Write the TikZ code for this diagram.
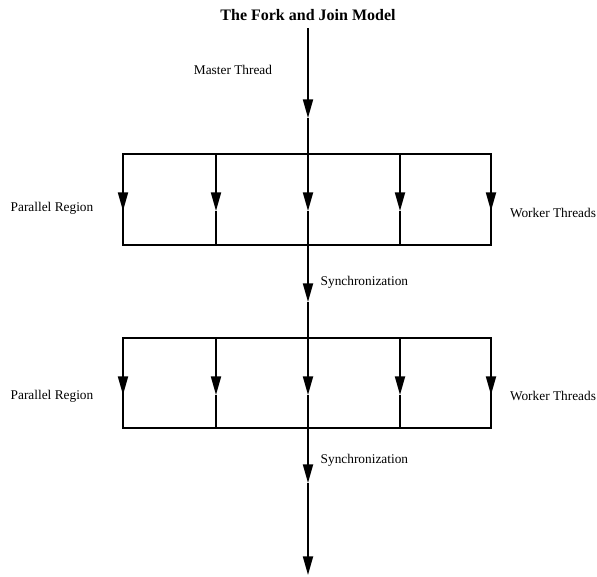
\documentclass[tikz,border=0pt]{standalone}
\usepackage{fontspec}
\setmainfont{Liberation Serif}
\usetikzlibrary{arrows.meta}

\begin{document}
\begin{tikzpicture}[x=.75pt,y=-.75pt,
	flow/.style={line width=1.5pt},
	fork/.style={flow,-{Triangle[length=14pt,width=7.5pt]}}]
	\useasboundingbox (0,0) rectangle (597,576);
	\node[font=\large\bfseries] (title) at (308,15) {The Fork and Join Model};
	
	% master thread
	\node (master) at (233,70) {Master Thread};
	\coordinate (start) at (308,28);
	\coordinate (fork1) at (308,118);
	\draw[fork] (start) -- (fork1);
	
	% the two parallel regions
	\foreach \r/\yt/\yb in {1/154/245,2/338/428}{
		\coordinate (r\r nw) at (123,\yt);
		\coordinate (r\r se) at (491,\yb);
		\draw[flow] (r\r nw) rectangle (r\r se);
		\foreach \c/\x in {1/123,2/216,3/308,4/400,5/491}{
			\coordinate (r\r t\c) at (\x,\yt);
			\coordinate (r\r a\c) at (\x,\yt+57);
			\coordinate (r\r b\c) at (\x,\yb);
			\draw[fork] (r\r t\c) -- (r\r a\c);
			\draw[flow] (r\r a\c) -- (r\r b\c);
		}
	}
	\node (par1) at (52,208) {Parallel Region};
	\node (wrk1) at (553,213) {Worker Threads};
	\node (par2) at (52,396) {Parallel Region};
	\node (wrk2) at (553,396) {Worker Threads};
	
	% synchronization
	\coordinate (sync1) at (308,302);
	\coordinate (sync2) at (308,483);
	\coordinate (stop) at (308,575);
	\draw[flow] (fork1) -- (r1t3);
	\draw[fork] (r1b3) -- (sync1);
	\draw[flow] (sync1) -- (r2t3);
	\draw[fork] (r2b3) -- (sync2);
	\draw[fork] (sync2) -- (stop);
	\node[anchor=west] (synclbl1) at (316,282) {Synchronization};
	\node[anchor=west] (synclbl2) at (316,460) {Synchronization};
\end{tikzpicture}
\end{document}
